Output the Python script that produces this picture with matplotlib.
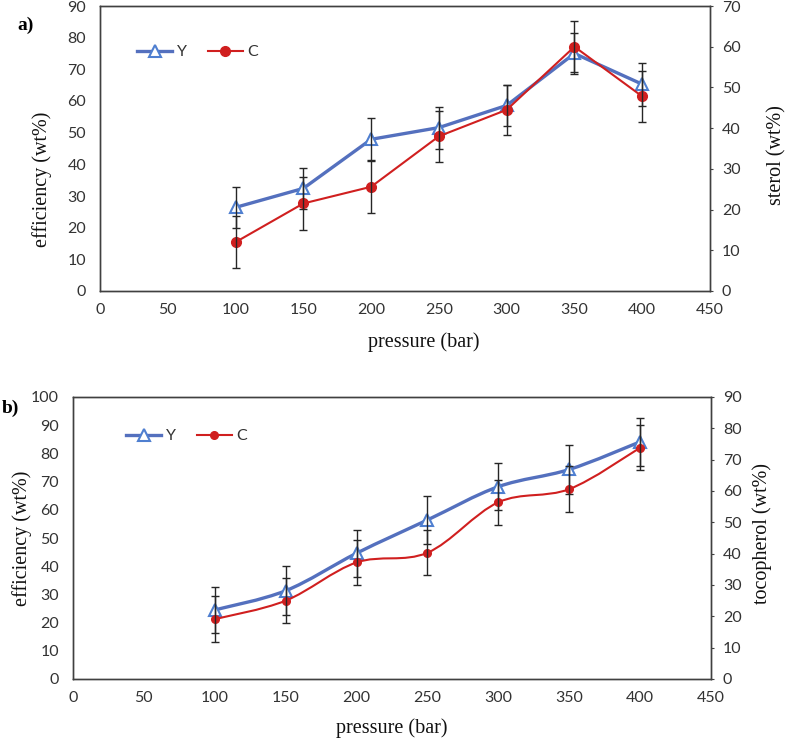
import numpy as np
import matplotlib
matplotlib.use("Agg")
import matplotlib.pyplot as plt
from matplotlib.path import Path
from matplotlib.patches import PathPatch
from matplotlib.lines import Line2D

pressure = [100, 150, 200, 250, 300, 350, 400]

# panel a: efficiency (Y, left axis) and sterol (C, right axis)
eff_a = [26.4, 32.4, 47.9, 51.6, 58.6, 75.0, 65.3]
eff_a_err = [6.6, 6.5, 6.6, 6.6, 6.6, 6.6, 6.8]
sterol = [12.0, 21.5, 25.6, 38.0, 44.5, 60.0, 47.8]
sterol_err = [6.3, 6.4, 6.4, 6.3, 6.1, 6.2, 6.3]

# panel b: efficiency (Y, left axis) and tocopherol (C, right axis)
eff_b = [24.5, 31.3, 44.6, 56.4, 68.2, 74.3, 84.1]
eff_b_err = [8.3, 8.6, 8.3, 8.6, 8.3, 8.8, 8.6]
toco = [19.1, 25.0, 37.2, 40.3, 56.4, 60.6, 73.8]
toco_err = [7.4, 7.2, 7.2, 7.2, 7.1, 7.3, 7.2]

xticks = np.arange(0, 451, 50)

BLUE_LINE = "#5470BE"
BLUE_MK = "#4F7FD0"
RED = "#D01F1F"
ERR = "#262626"
AXC = "#404040"
TXT = "#333333"
SERIF = "Liberation Serif"
SANS = "Lato"
W, H = 787, 738

plt.rcParams["font.family"] = SANS


def smooth_path(x, y):
    # Catmull-Rom style bezier, like a spreadsheet's "smoothed line"
    pts = np.column_stack([np.asarray(x, float), np.asarray(y, float)])
    n = len(pts)
    verts = [pts[0]]
    codes = [Path.MOVETO]
    for i in range(n - 1):
        p0 = pts[max(i - 1, 0)]
        p1 = pts[i]
        p2 = pts[i + 1]
        p3 = pts[min(i + 2, n - 1)]
        verts += [p1 + (p2 - p0) / 6.0, p2 - (p3 - p1) / 6.0, p2]
        codes += [Path.CURVE4] * 3
    return Path(verts, codes)


def ftext(x, y, s, **kw):
    # place text by pixel position (from top-left)
    fig.text(x / W, 1 - y / H, s, ha="center", va="center", **kw)


def panel(box, y1, e1, y2, e2, ylim1, ylim2, lab2, smooth, ms_t, ms_c, leg_xy, tag, tag_xy,
          ylab_pos, ylab2_pos, xlab_pos):
    l, t, r, b = box
    ax = fig.add_axes([l / W, 1 - b / H, (r - l) / W, (b - t) / H])
    ax2 = ax.twinx()
    ax.set_zorder(1)
    ax2.set_zorder(2)
    ax.patch.set_visible(False)
    ax2.patch.set_visible(False)

    if smooth:
        ax.add_patch(PathPatch(smooth_path(pressure, y1), fill=False, ec=BLUE_LINE, lw=2.4, zorder=2))
        ax2.add_patch(PathPatch(smooth_path(pressure, y2), fill=False, ec=RED, lw=1.5, zorder=2))
    else:
        ax.plot(pressure, y1, color=BLUE_LINE, lw=2.4, zorder=2)
        ax2.plot(pressure, y2, color=RED, lw=1.5, zorder=2)
    ax.plot(pressure, y1, ls="none", marker="^", ms=ms_t, mfc="white", mec=BLUE_MK, mew=1.5, zorder=3)
    ax2.plot(pressure, y2, ls="none", marker="o", ms=ms_c, color=RED, zorder=3)
    ax.errorbar(pressure, y1, yerr=e1, fmt="none", ecolor=ERR, elinewidth=1.0, capsize=3, capthick=1.0, zorder=4)
    ax2.errorbar(pressure, y2, yerr=e2, fmt="none", ecolor=ERR, elinewidth=1.0, capsize=3, capthick=1.0, zorder=4)

    ax.set_xlim(0, 450)
    ax.set_xticks(xticks)
    ax.set_ylim(*ylim1)
    ax.set_yticks(np.arange(ylim1[0], ylim1[1] + 1, 10))
    ax2.set_ylim(*ylim2)
    ax2.set_yticks(np.arange(ylim2[0], ylim2[1] + 1, 10))
    for a in (ax, ax2):
        for s in a.spines.values():
            s.set_color(AXC)
            s.set_linewidth(1.0)
        a.tick_params(labelsize=11.5, colors=AXC, labelcolor=TXT)
    ax.tick_params(axis="x", length=0, pad=9)
    ax.tick_params(axis="y", length=0, pad=10)
    ax2.tick_params(axis="y", length=2.5, direction="out", pad=6)

    ftext(*xlab_pos, "pressure (bar)", family=SERIF, fontsize=14.5, color="#111111")
    ftext(*ylab_pos, "efficiency (wt%)", family=SERIF, fontsize=14.5, rotation=90, color="#111111")
    ftext(*ylab2_pos, lab2, family=SERIF, fontsize=14.5, rotation=90, color="#111111")

    h1 = Line2D([], [], color=BLUE_LINE, lw=2.4, marker="^", ms=ms_t, mfc="white", mec=BLUE_MK, mew=1.5)
    h2 = Line2D([], [], color=RED, lw=1.5, marker="o", ms=ms_c)
    fig.legend([h1, h2], ["Y", "C"], loc="center left", bbox_to_anchor=(leg_xy[0] / W, 1 - leg_xy[1] / H),
               ncol=2, frameon=False, fontsize=11.5, handlelength=2.2, borderpad=0, borderaxespad=0,
               columnspacing=1.3, handletextpad=0.3, labelcolor=TXT)
    fig.text(tag_xy[0] / W, 1 - tag_xy[1] / H, tag, family=SERIF, fontsize=14, fontweight="bold",
             va="center", ha="left")
    return ax, ax2


fig = plt.figure(figsize=(W / 100, H / 100), dpi=100)

panel((100, 6, 710, 291), eff_a, eff_a_err, sterol, sterol_err,
      (0, 90), (0, 70), "sterol (wt%)", False, 9, 7, (137, 52), "a)", (17, 25),
      (42, 179), (777, 155), (424, 342))

panel((73, 397, 711, 679), eff_b, eff_b_err, toco, toco_err,
      (0, 100), (0, 90), "tocopherol (wt%)", True, 8, 5.5, (126, 436), "b)", (2, 408),
      (22, 538), (762, 534), (392, 728))

fig.savefig("out.png", dpi=100)
